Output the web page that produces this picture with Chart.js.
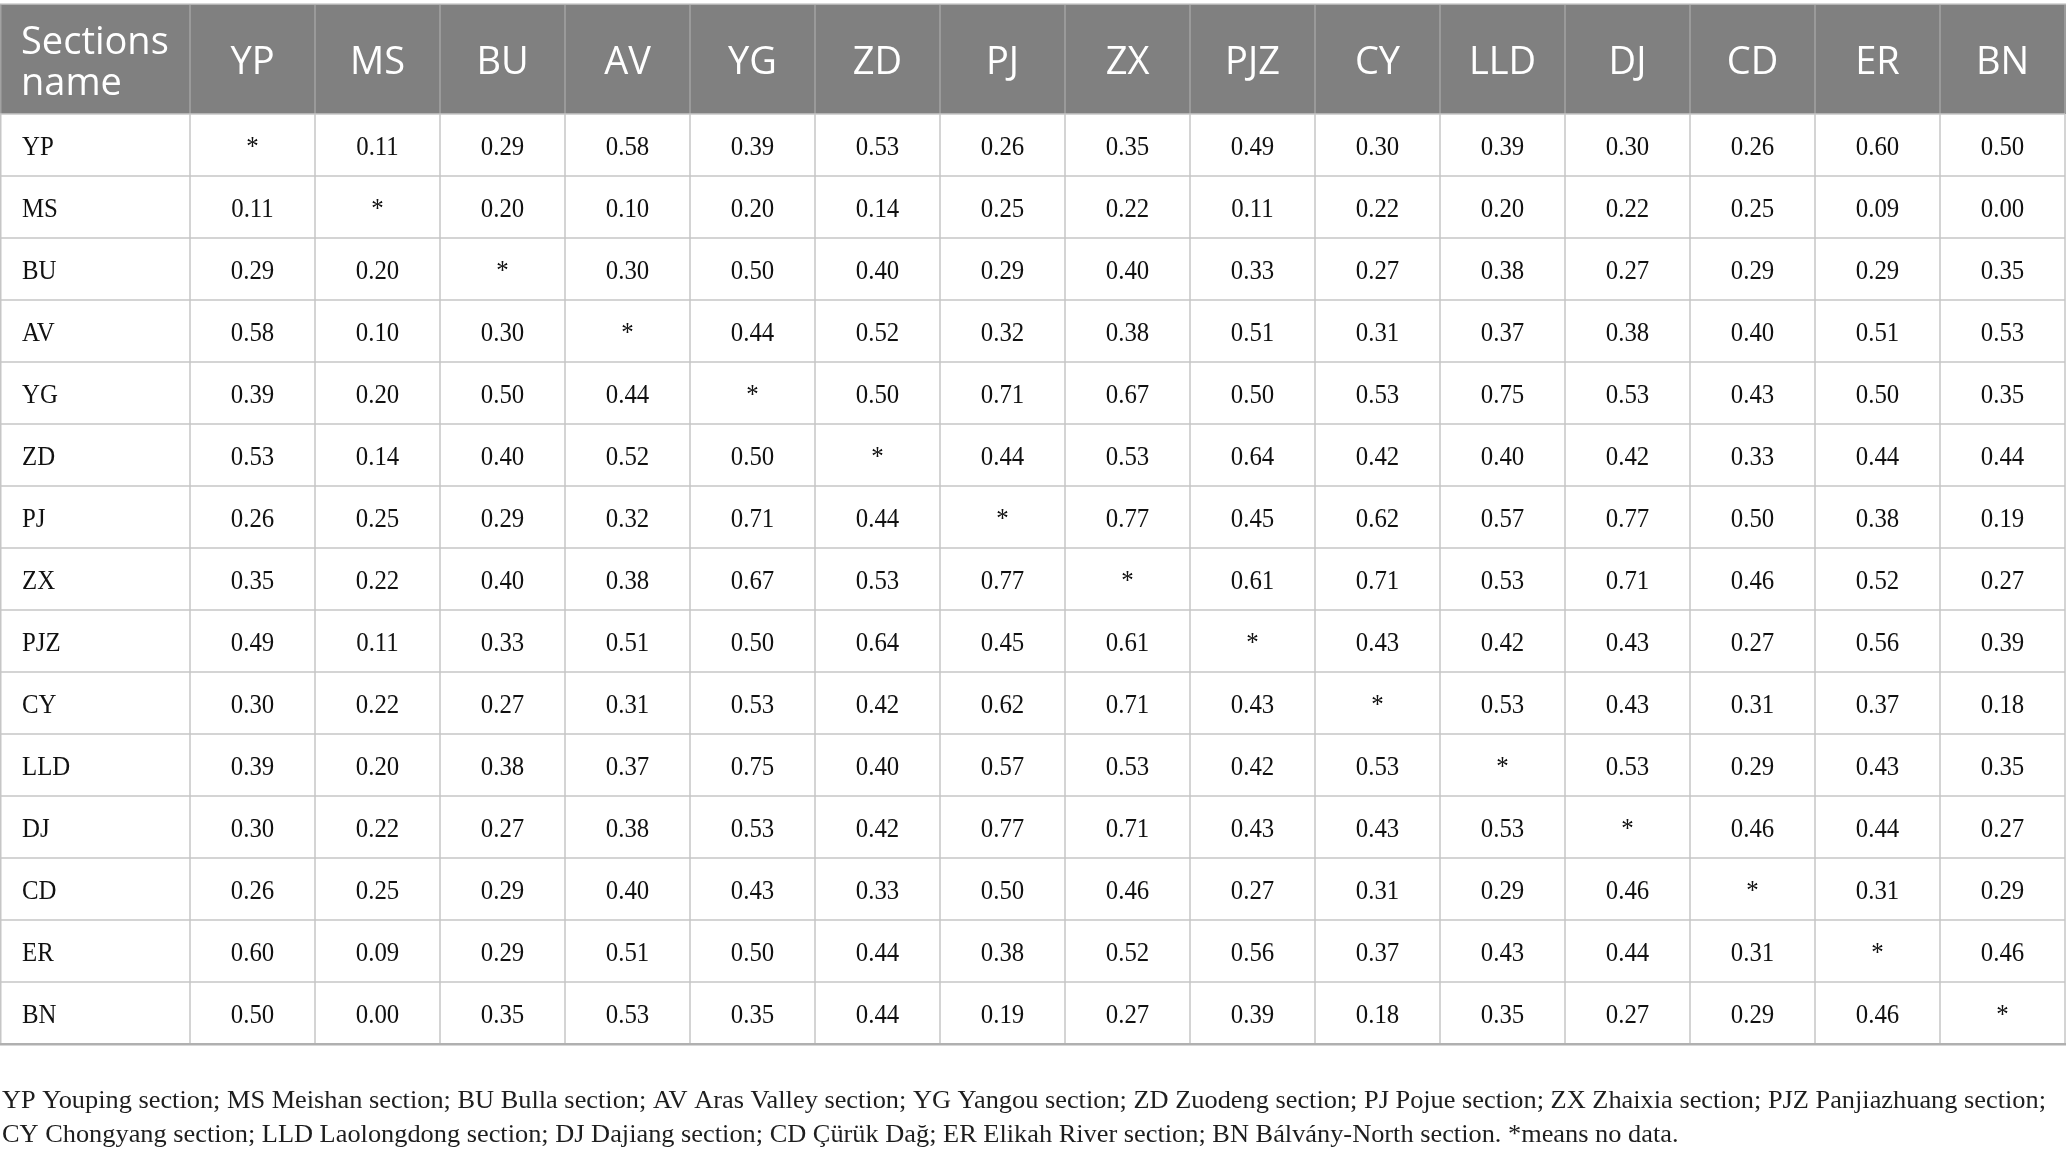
<!DOCTYPE html>
<html>
<head>
<meta charset="utf-8">
<script src="https://cdn.jsdelivr.net/npm/chart.js@4.4.1/dist/chart.umd.min.js"></script>
<style>
  html, body { margin: 0; padding: 0; background: #ffffff; overflow: hidden; }
  canvas { display: block; }
</style>
</head>
<body>
<canvas id="c" width="2068" height="1162" style="width:2068px;height:1162px"></canvas>
<script>
// ---- data ----
const cornerTitle = ['Sections', 'name'];
const columnLabels = ['YP','MS','BU','AV','YG','ZD','PJ','ZX','PJZ','CY','LLD','DJ','CD','ER','BN'];
const rowLabels    = ['YP','MS','BU','AV','YG','ZD','PJ','ZX','PJZ','CY','LLD','DJ','CD','ER','BN'];
// null = "*" (no data)
const rowYP  = [null, 0.11, 0.29, 0.58, 0.39, 0.53, 0.26, 0.35, 0.49, 0.30, 0.39, 0.30, 0.26, 0.60, 0.50];
const rowMS  = [0.11, null, 0.20, 0.10, 0.20, 0.14, 0.25, 0.22, 0.11, 0.22, 0.20, 0.22, 0.25, 0.09, 0.00];
const rowBU  = [0.29, 0.20, null, 0.30, 0.50, 0.40, 0.29, 0.40, 0.33, 0.27, 0.38, 0.27, 0.29, 0.29, 0.35];
const rowAV  = [0.58, 0.10, 0.30, null, 0.44, 0.52, 0.32, 0.38, 0.51, 0.31, 0.37, 0.38, 0.40, 0.51, 0.53];
const rowYG  = [0.39, 0.20, 0.50, 0.44, null, 0.50, 0.71, 0.67, 0.50, 0.53, 0.75, 0.53, 0.43, 0.50, 0.35];
const rowZD  = [0.53, 0.14, 0.40, 0.52, 0.50, null, 0.44, 0.53, 0.64, 0.42, 0.40, 0.42, 0.33, 0.44, 0.44];
const rowPJ  = [0.26, 0.25, 0.29, 0.32, 0.71, 0.44, null, 0.77, 0.45, 0.62, 0.57, 0.77, 0.50, 0.38, 0.19];
const rowZX  = [0.35, 0.22, 0.40, 0.38, 0.67, 0.53, 0.77, null, 0.61, 0.71, 0.53, 0.71, 0.46, 0.52, 0.27];
const rowPJZ = [0.49, 0.11, 0.33, 0.51, 0.50, 0.64, 0.45, 0.61, null, 0.43, 0.42, 0.43, 0.27, 0.56, 0.39];
const rowCY  = [0.30, 0.22, 0.27, 0.31, 0.53, 0.42, 0.62, 0.71, 0.43, null, 0.53, 0.43, 0.31, 0.37, 0.18];
const rowLLD = [0.39, 0.20, 0.38, 0.37, 0.75, 0.40, 0.57, 0.53, 0.42, 0.53, null, 0.53, 0.29, 0.43, 0.35];
const rowDJ  = [0.30, 0.22, 0.27, 0.38, 0.53, 0.42, 0.77, 0.71, 0.43, 0.43, 0.53, null, 0.46, 0.44, 0.27];
const rowCD  = [0.26, 0.25, 0.29, 0.40, 0.43, 0.33, 0.50, 0.46, 0.27, 0.31, 0.29, 0.46, null, 0.31, 0.29];
const rowER  = [0.60, 0.09, 0.29, 0.51, 0.50, 0.44, 0.38, 0.52, 0.56, 0.37, 0.43, 0.44, 0.31, null, 0.46];
const rowBN  = [0.50, 0.00, 0.35, 0.53, 0.35, 0.44, 0.19, 0.27, 0.39, 0.18, 0.35, 0.27, 0.29, 0.46, null];
const footnoteLines = [
  'YP Youping section; MS Meishan section; BU Bulla section; AV Aras Valley section; YG Yangou section; ZD Zuodeng section; PJ Pojue section; ZX Zhaixia section; PJZ Panjiazhuang section;',
  'CY Chongyang section; LLD Laolongdong section; DJ Dajiang section; CD \u00c7\u00fcr\u00fck Da\u011f; ER Elikah River section; BN B\u00e1lv\u00e1ny-North section. *means no data.'
];

const valueRows = [rowYP,rowMS,rowBU,rowAV,rowYG,rowZD,rowPJ,rowZX,rowPJZ,rowCY,rowLLD,rowDJ,rowCD,rowER,rowBN];
const cells = [];
valueRows.forEach((vals, r) => vals.forEach((v, c) => cells.push({ x: columnLabels[c], y: rowLabels[r], v: v })));

// ---- style ----
const HEAD_BG = '#808080', HEAD_SEP = '#a2a2a2', GRID = '#c6c6c6', TEXT = '#111111';
const SANS = '"Open Sans", "Noto Sans", sans-serif';
const SERIF = '"Liberation Serif", "DejaVu Serif", serif';

const tablePlugin = {
  id: 'tablePlugin',
  beforeDraw(chart) {
    const ctx = chart.ctx;
    ctx.save();
    ctx.fillStyle = '#ffffff';
    ctx.fillRect(0, 0, chart.width, chart.height);
    ctx.restore();
  },
  afterDatasetsDraw(chart) {
    const ctx = chart.ctx, xs = chart.scales.x, ys = chart.scales.y, ca = chart.chartArea;
    const halfW = (xs.getPixelForValue(1) - xs.getPixelForValue(0)) / 2;
    const halfH = (ys.getPixelForValue(1) - ys.getPixelForValue(0)) / 2;
    const left = 0, right = ca.right, headTop = 5, headBottom = ca.top, bottom = ca.bottom;
    ctx.save();
    // header background
    ctx.fillStyle = HEAD_BG;
    ctx.fillRect(left, headTop, right - left + 1, headBottom - headTop);
    // top border
    ctx.fillStyle = '#b4b4b4';
    ctx.fillRect(left, headTop - 1.5, right - left + 1, 1.5);
    // header separators
    ctx.strokeStyle = HEAD_SEP; ctx.lineWidth = 1.5;
    ctx.beginPath();
    const vx = [left + 0.75, ca.left];
    columnLabels.forEach((_, i) => vx.push(xs.getPixelForValue(i) + halfW));
    vx.forEach(x => { ctx.moveTo(x, headTop); ctx.lineTo(x, headBottom); });
    ctx.stroke();
    // body grid
    ctx.strokeStyle = GRID; ctx.lineWidth = 1.5;
    ctx.beginPath();
    vx.forEach(x => { ctx.moveTo(x, headBottom); ctx.lineTo(x, bottom); });
    rowLabels.forEach((_, j) => {
      const y = ys.getPixelForValue(j) - halfH;
      ctx.moveTo(left, y); ctx.lineTo(right, y);
    });
    ctx.stroke();
    ctx.fillStyle = '#b0b0b0';
    ctx.fillRect(left, bottom - 1, right - left + 1, 2.5);

    // header text
    ctx.fillStyle = '#ffffff';
    ctx.font = '38px ' + SANS;
    ctx.textBaseline = 'alphabetic';
    ctx.textAlign = 'left';
    ctx.fillText(cornerTitle[0], 21, 54);
    ctx.fillText(cornerTitle[1], 21, 95);
    ctx.textAlign = 'center';
    columnLabels.forEach((lab, i) => ctx.fillText(lab, xs.getPixelForValue(i), 74));

    // row labels
    const SX = 0.92;
    ctx.fillStyle = TEXT;
    ctx.font = '27px ' + SERIF;
    ctx.textAlign = 'left';
    rowLabels.forEach((lab, j) => {
      ctx.save();
      ctx.translate(22, ys.getPixelForValue(j) + 10);
      ctx.scale(SX, 1);
      ctx.fillText(lab, 0, 0);
      ctx.restore();
    });
    // cells from dataset elements
    ctx.textAlign = 'center';
    const meta = chart.getDatasetMeta(0);
    meta.data.forEach((el, i) => {
      const v = cells[i].v;
      const txt = v === null ? '*' : v.toFixed(2);
      ctx.save();
      ctx.translate(el.x, el.y + 10);
      ctx.scale(SX, 1);
      ctx.fillText(txt, 0, 0);
      ctx.restore();
    });

    // footnote
    ctx.fillStyle = '#1e1e1e';
    ctx.font = '26px ' + SERIF;
    ctx.textAlign = 'left';
    const fsx = 2044 / ctx.measureText(footnoteLines[0]).width;
    [1108, 1142].forEach((y, k) => {
      ctx.save();
      ctx.translate(2, y);
      ctx.scale(fsx, 1);
      ctx.fillText(footnoteLines[k], 0, 0);
      ctx.restore();
    });
    ctx.restore();
  }
};

new Chart(document.getElementById('c').getContext('2d'), {
  type: 'scatter',
  data: { datasets: [{ data: cells, pointRadius: 0, pointHoverRadius: 0, showLine: false }] },
  options: {
    responsive: false,
    devicePixelRatio: 1,
    animation: false,
    events: [],
    layout: { padding: { left: 190, top: 114, right: 3, bottom: 118 } },
    plugins: { legend: { display: false }, tooltip: { enabled: false } },
    scales: {
      x: { type: 'category', labels: columnLabels, offset: true, display: false },
      y: { type: 'category', labels: rowLabels, offset: true, display: false }
    }
  },
  plugins: [tablePlugin]
});
</script>
</body>
</html>
